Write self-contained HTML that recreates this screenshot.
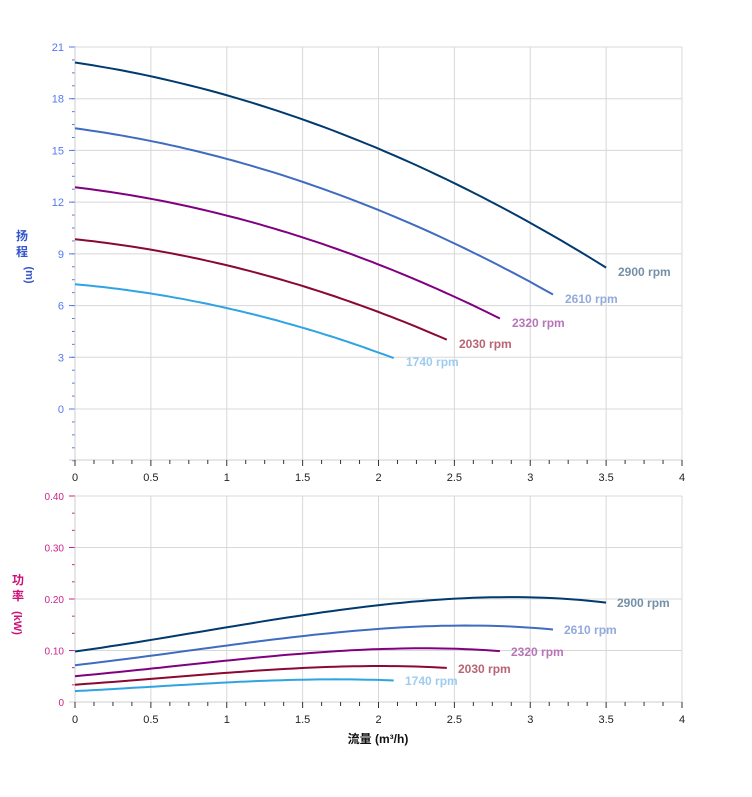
<!DOCTYPE html>
<html><head><meta charset="utf-8"><style>
body{margin:0;background:#fff;}
svg{display:block;font-family:"Liberation Sans","Noto Sans CJK SC",sans-serif;}
</style></head><body>
<svg id="s" width="752" height="797" xmlns="http://www.w3.org/2000/svg"></svg>
<script>
const s=document.getElementById('s');let h='';
const X=q=>75+q*151.75;
const YT=v=>409-v*17.238;
const YB=v=>702-v*515;
for(let i=0;i<=8;i++){const x=X(i*0.5);h+=`<line x1="${x}" y1="47" x2="${x}" y2="460" stroke="#d8d8d8"/>`;h+=`<line x1="${x}" y1="496" x2="${x}" y2="702" stroke="#d8d8d8"/>`;}
for(let v=0;v<=21;v+=3){const y=YT(v);h+=`<line x1="75" y1="${y}" x2="682" y2="${y}" stroke="#d8d8d8"/><line x1="69" y1="${y}" x2="75" y2="${y}" stroke="#5577ee"/><text x="64" y="${y+4}" font-size="11" fill="#5577ee" text-anchor="end">${v}</text>`;}
for(let v=-3;v<21;v+=0.75){const y=YT(v);h+=`<line x1="72" y1="${y}" x2="75" y2="${y}" stroke="#5577ee"/>`;}
h+=`<line x1="75" y1="47" x2="75" y2="460" stroke="#ccc"/><line x1="69" y1="460" x2="682" y2="460" stroke="#ccc"/>`;
[0.1,0.2,0.3,0.4].forEach(v=>{const y=YB(v);h+=`<line x1="75" y1="${y}" x2="682" y2="${y}" stroke="#d8d8d8"/>`;});
[0,0.1,0.2,0.3,0.4].forEach(v=>{const y=YB(v);h+=`<line x1="69" y1="${y}" x2="75" y2="${y}" stroke="#cc2288"/><text x="64" y="${y+4}" font-size="10" fill="#cc2288" text-anchor="end">${v==0?'0':v.toFixed(2)}</text>`;});
for(let v=0;v<0.4;v+=0.4/12){const y=YB(v);h+=`<line x1="72" y1="${y}" x2="75" y2="${y}" stroke="#cc2288"/>`;}
h+=`<line x1="75" y1="496" x2="75" y2="702" stroke="#ccc"/><line x1="69" y1="702" x2="682" y2="702" stroke="#ccc"/>`;
for(let i=0;i<=32;i++){const x=X(i*0.125);const L=i%4==0?6:4;h+=`<line x1="${x}" y1="460" x2="${x}" y2="${460+L}" stroke="#333"/><line x1="${x}" y1="702" x2="${x}" y2="${702+L}" stroke="#333"/>`;}
['0','0.5','1','1.5','2','2.5','3','3.5','4'].forEach((t,i)=>{const x=X(i*0.5);h+=`<text x="${x}" y="481" font-size="11" fill="#222" text-anchor="middle">${t}</text><text x="${x}" y="723" font-size="11" fill="#222" text-anchor="middle">${t}</text>`;});
const H=q=>20.1-1.3*q-0.6*q*q;
const P=q=>0.098+0.04108*q+0.00988*q*q-0.00396*q*q*q;
const sp=[[1,'#003a6e','2900 rpm','#7590a6',618,271,617,602],[0.9,'#3f6cc0','2610 rpm','#92aadc',565,298,564,629],[0.8,'#800080','2320 rpm','#b775b7',512,322,511,651],[0.7,'#8a0832','2030 rpm','#b86474',459,343,458,668],[0.6,'#2ea4e2','1740 rpm','#9ccdf0',406,361,405,680]];
sp.forEach(([r,c,l,lc,tx,ty,bx,by])=>{let a=[],b=[];const qm=3.5*r;
for(let i=0;i<=60;i++){const q=qm*i/60;a.push(X(q).toFixed(1)+','+YT(r*r*H(q/r)).toFixed(1));b.push(X(q).toFixed(1)+','+YB(r*r*r*P(q/r)).toFixed(1));}
h+=`<polyline points="${a.join(' ')}" fill="none" stroke="${c}" stroke-width="2"/><polyline points="${b.join(' ')}" fill="none" stroke="${c}" stroke-width="2"/>`;
h+=`<text x="${tx}" y="${ty+5}" font-size="12" font-weight="bold" fill="${lc}">${l}</text><text x="${bx}" y="${by+5}" font-size="12" font-weight="bold" fill="${lc}">${l}</text>`;});
h+=`<text x="22" y="240" font-size="12" font-weight="bold" fill="#3355cc" text-anchor="middle">扬</text><text x="22" y="256" font-size="12" font-weight="bold" fill="#3355cc" text-anchor="middle">程</text><text x="22" y="275" font-size="11" font-weight="bold" fill="#3355cc" text-anchor="middle" transform="rotate(90 22 275)" dy="-4">(m)</text>`;
h+=`<text x="18" y="584" font-size="12" font-weight="bold" fill="#cc1177" text-anchor="middle">功</text><text x="18" y="600" font-size="12" font-weight="bold" fill="#cc1177" text-anchor="middle">率</text><text x="18" y="623" font-size="11" font-weight="bold" fill="#cc1177" text-anchor="middle" transform="rotate(90 18 623)" dy="4">(kW)</text>`;
h+=`<text x="378" y="743" font-size="12" font-weight="bold" fill="#111" text-anchor="middle">流量 (m³/h)</text>`;
s.innerHTML=h;
</script>
</body></html>
